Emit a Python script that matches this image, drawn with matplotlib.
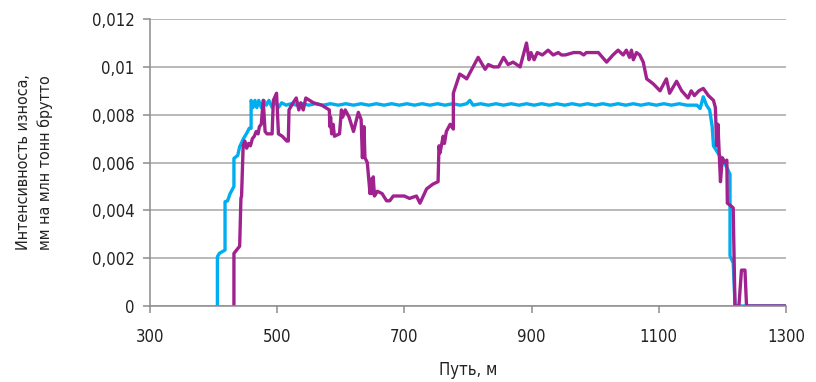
import matplotlib.pyplot as plt
from matplotlib.ticker import FixedLocator, FixedFormatter

plt.rcParams['font.family'] = ['DejaVu Sans']
plt.rcParams['font.stretch'] = 'condensed'

# blue series (path, m / wear rate)
blue_x = [406, 406, 409, 418, 418, 422, 426, 432, 432, 438, 441, 447, 452, 456, 459, 459,
          462, 465, 468, 471, 475, 479, 483, 487, 492, 497, 502, 507, 514, 522, 530, 540,
          550, 560, 572, 584, 596, 608, 620, 632, 644, 656, 668, 680, 692, 704, 716, 728,
          740, 752, 764, 776, 788, 798, 803, 808, 820, 832, 844, 856, 868, 880, 892, 904,
          916, 928, 940, 952, 964, 976, 988, 1000, 1012, 1024, 1036, 1048, 1060, 1072,
          1084, 1096, 1108, 1120, 1132, 1144, 1155, 1160, 1165, 1170, 1175, 1180, 1184,
          1186, 1193, 1200, 1207, 1212, 1212, 1217, 1220, 1300]
blue_y = [0, 0.00206, 0.0022, 0.00234, 0.00436, 0.0044, 0.0047, 0.0050, 0.00617, 0.0063,
          0.00666, 0.0070, 0.00722, 0.00743, 0.00743, 0.0086,
          0.0083, 0.0086, 0.0083, 0.0086, 0.0083, 0.0086, 0.0084, 0.0086, 0.0083, 0.0086,
          0.0083, 0.0085, 0.0084, 0.00846, 0.0084, 0.00846, 0.0084, 0.00846, 0.0084,
          0.00846, 0.0084, 0.00846, 0.0084, 0.00846, 0.0084, 0.00846, 0.0084, 0.00846,
          0.0084, 0.00846, 0.0084, 0.00846, 0.0084, 0.00846, 0.0084, 0.00846, 0.0084,
          0.00846, 0.0086, 0.0084, 0.00846, 0.0084, 0.00846, 0.0084, 0.00846, 0.0084,
          0.00846, 0.0084, 0.00846, 0.0084, 0.00846, 0.0084, 0.00846, 0.0084, 0.00846,
          0.0084, 0.00846, 0.0084, 0.00846, 0.0084, 0.00846, 0.0084, 0.00846, 0.0084,
          0.00846, 0.0084, 0.00846, 0.0084, 0.0084, 0.0084, 0.00826, 0.00875, 0.0084,
          0.0082, 0.0075, 0.0067, 0.0064, 0.0061, 0.0058, 0.0055, 0.0021, 0.0018, 0, 0]

# magenta series
mag_x = [432, 432, 441, 443, 444, 446.5, 449, 452, 455, 458, 461, 464, 467, 470, 472, 475,
         478, 481, 484, 489, 492, 494, 499, 502, 508, 515, 517.5, 518.6, 525, 530, 534, 537,
         541, 545, 557, 570, 582, 583, 584, 585.6, 588, 590, 598, 601, 603, 607, 613, 620,
         627.6, 632, 634, 636.5, 638, 641.7, 646, 647, 650, 651, 653, 657.5, 665, 672, 677,
         682.6, 693, 700, 708, 719, 724.5, 735, 745, 753, 754.4, 756, 761, 763, 766, 772,
         777, 777, 782, 787, 793, 798, 808, 816, 827, 832, 840, 848, 856, 863, 871, 882,
         892, 896, 899, 904, 909, 917, 926, 934, 942, 947, 953, 966, 976, 982, 986, 997,
         1005, 1018, 1028, 1036, 1044, 1049, 1054, 1057, 1060, 1065, 1070, 1075.6, 1081,
         1091, 1102, 1112, 1117, 1128, 1136, 1146, 1151, 1156, 1163, 1170, 1178, 1186,
         1189, 1191, 1193, 1195, 1197, 1200, 1204, 1207, 1207.8, 1213, 1217, 1219.8, 1226,
         1230, 1235.5, 1238, 1300]
mag_y = [0, 0.0022, 0.0025, 0.0045, 0.0046, 0.0067, 0.0069, 0.0066, 0.0068, 0.0067, 0.0070,
         0.0071, 0.0073, 0.0072, 0.0075, 0.0076, 0.0086, 0.0073, 0.0072, 0.0072, 0.0072,
         0.0086, 0.0089, 0.0072, 0.0071, 0.0069, 0.0069, 0.0082, 0.0085, 0.0087, 0.0082,
         0.0085, 0.0082, 0.0087, 0.0085, 0.0084, 0.0082, 0.0075, 0.0079, 0.0072, 0.0076,
         0.0071, 0.0072, 0.0082, 0.0079, 0.0082, 0.0079, 0.0073, 0.0081, 0.0078, 0.0062,
         0.0075, 0.0062, 0.0060, 0.0047, 0.0053, 0.0047, 0.0054, 0.0046, 0.0048, 0.0047,
         0.0044, 0.0044, 0.0046, 0.0046, 0.0046, 0.0045, 0.0046, 0.0043, 0.0049, 0.0051,
         0.0052, 0.0067, 0.0064, 0.0071, 0.0068, 0.0073, 0.0076, 0.0074, 0.0089, 0.0093,
         0.0097, 0.0096, 0.0095, 0.0100, 0.0104, 0.0099, 0.0101, 0.0100, 0.0100, 0.0104,
         0.0101, 0.0102, 0.0100, 0.0110, 0.0103, 0.0106, 0.0103, 0.0106, 0.0105, 0.0107,
         0.0105, 0.0106, 0.0105, 0.0105, 0.0106, 0.0106, 0.0105, 0.0106, 0.0106, 0.0106,
         0.0102, 0.0105, 0.0107, 0.0105, 0.0107, 0.0104, 0.0107, 0.0103, 0.0106, 0.0105,
         0.0102, 0.0095, 0.0093, 0.0090, 0.0095, 0.0089, 0.0094, 0.0090, 0.0087, 0.0090,
         0.0088, 0.0090, 0.0091, 0.0088, 0.0086, 0.0083, 0.0067, 0.0076, 0.0064, 0.0052,
         0.0062, 0.0060, 0.0061, 0.0043, 0.0042, 0.0041, 0, 0, 0.0015, 0.0015, 0, 0]

y_ticks = [0, 0.002, 0.004, 0.006, 0.008, 0.01, 0.012]
y_labels = ['0', '0,002', '0,004', '0,006', '0,008', '0,01', '0,012']
x_ticks = [300, 500, 700, 900, 1100, 1300]

fig = plt.figure(figsize=(8.16, 3.82), dpi=100)
ax = fig.add_axes([0.1838, 0.199, 0.7794, 0.751])

ax.plot(blue_x, blue_y, color='#00AEEF', linewidth=2.4, solid_joinstyle='round')
ax.plot(mag_x, mag_y, color='#A0228F', linewidth=2.4, solid_joinstyle='round')

ax.set_xlim(300, 1300)
ax.set_ylim(0, 0.012)
ax.xaxis.set_major_locator(FixedLocator(x_ticks))
ax.yaxis.set_major_locator(FixedLocator(y_ticks))
ax.yaxis.set_major_formatter(FixedFormatter(y_labels))
ax.grid(axis='y', color='#a6a6a6', linewidth=1.1)
ax.set_axisbelow(True)

for s in ['top', 'right']:
    ax.spines[s].set_visible(False)
for s in ['left', 'bottom']:
    ax.spines[s].set_color('#8c8c8c')
    ax.spines[s].set_linewidth(1.1)
ax.tick_params(colors='#8c8c8c', labelcolor='#222222', labelsize=12, length=5, width=1.1)
ax.tick_params(axis='x', pad=11)
ax.tick_params(axis='y', pad=6)

ax.set_xlabel('Путь, м', fontsize=12, color='#222222', labelpad=11)
ax.set_ylabel('Интенсивность износа,\nмм на млн тонн брутто', fontsize=11.5,
              color='#222222', linespacing=1.45)
ax.yaxis.set_label_coords(-0.153, 0.5)

fig.savefig('out.png', dpi=100)
